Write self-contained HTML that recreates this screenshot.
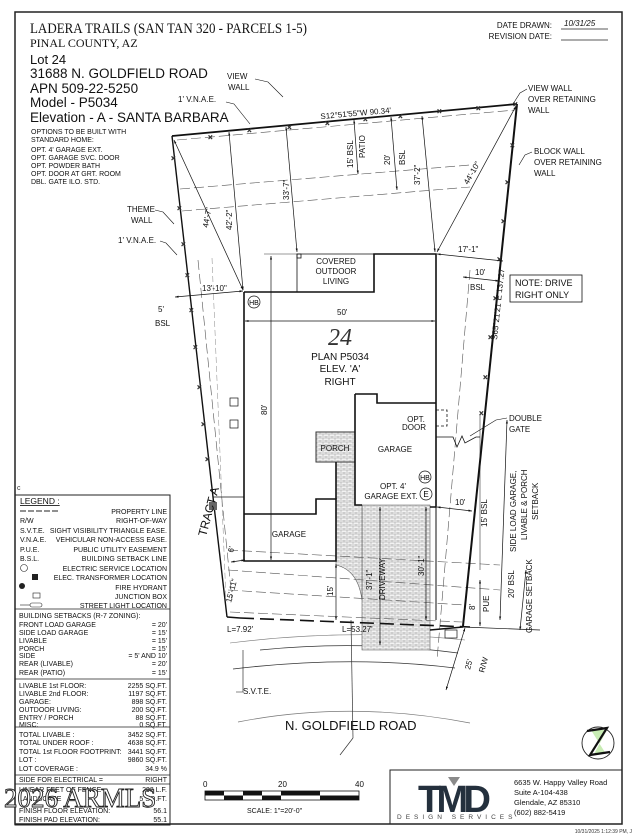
<!DOCTYPE html>
<html><head><meta charset="utf-8"><style>
body{margin:0;background:#fff;}
svg{display:block;font-family:"Liberation Sans",sans-serif;}
.t{font-size:8px;fill:#111;}
.s{font-size:7px;fill:#111;}
</style></head><body>
<svg width="635" height="836" viewBox="0 0 635 836" xmlns="http://www.w3.org/2000/svg">
<defs>
<pattern id="brick" width="6" height="4" patternUnits="userSpaceOnUse">
<rect width="6" height="4" fill="#f2f2f2"/>
<path d="M0 0H6M0 2H6M2 0V2M5 2V4" stroke="#9a9a9a" stroke-width="0.5"/>
</pattern>
<marker id="a" viewBox="0 0 10 10" refX="10" refY="5" markerWidth="5" markerHeight="5" orient="auto-start-reverse"><path d="M0 2L10 5L0 8z" fill="#111"/></marker>
</defs>
<rect x="15" y="12" width="607" height="812" fill="none" stroke="#222" stroke-width="1.5"/>

<text x="30" y="33" style="font-family:'Liberation Serif',serif;font-size:14.5px" fill="#111" textLength="277" lengthAdjust="spacingAndGlyphs">LADERA TRAILS (SAN TAN 320 - PARCELS 1-5)</text>
<text x="30" y="47" style="font-family:'Liberation Serif',serif;font-size:12px" fill="#111">PINAL COUNTY, AZ</text>
<text x="30" y="64" font-size="13" fill="#111">Lot  24</text>
<text x="30" y="78" font-size="13.5" fill="#111">31688 N. GOLDFIELD ROAD</text>
<text x="30" y="93" font-size="13.5" fill="#111">APN 509-22-5250</text>
<text x="30" y="107" font-size="13.5" fill="#111">Model - P5034</text>
<text x="30" y="122" font-size="13.5" fill="#111">Elevation - A - SANTA BARBARA</text>
<text x="31" y="134" class="s" font-size="6.5">OPTIONS TO BE BUILT WITH</text>
<text x="31" y="142" class="s" font-size="6.5">STANDARD HOME:</text>
<text x="31" y="152" class="s">OPT.  4'  GARAGE  EXT.</text>
<text x="31" y="160" class="s">OPT.  GARAGE  SVC.  DOOR</text>
<text x="31" y="168" class="s">OPT.  POWDER  BATH</text>
<text x="31" y="176" class="s">OPT.  DOOR  AT  GRT.  ROOM</text>
<text x="31" y="184" class="s">DBL.  GATE  ILO.  STD.</text>

<text x="552" y="28" class="t" text-anchor="end">DATE DRAWN:</text>
<text x="564" y="26" class="t" font-style="italic">10/31/25</text>
<line x1="561" y1="29" x2="608" y2="29" stroke="#222" stroke-width="0.7"/>
<text x="552" y="39" class="t" text-anchor="end">REVISION DATE:</text>
<line x1="561" y1="40" x2="608" y2="40" stroke="#222" stroke-width="0.7"/>

<path d="M238 722 Q350 700 470 723" fill="none" stroke="#777" stroke-width="0.7"/>
<path d="M260 650 Q360 640 458 653" fill="none" stroke="#333" stroke-width="0.8"/>
<path d="M233 669 Q350 655 455 668" fill="none" stroke="#333" stroke-width="0.8"/>
<path d="M230 643 Q350 628 465 640" fill="none" stroke="#777" stroke-width="0.6"/>
<text x="285" y="730" font-size="13" fill="#111">N. GOLDFIELD ROAD</text>
<line x1="351" y1="620" x2="353" y2="738" stroke="#333" stroke-width="0.7"/>
<line x1="353" y1="738" x2="340" y2="755" stroke="#333" stroke-width="0.7"/>

<path d="M362 505 L430 505 L430 650 L362 650 Z" fill="url(#brick)" stroke="#555" stroke-width="0.6"/>
<path d="M336 462 L355 462 L355 505 L362 505 L362 600 Q358 570 336 565 Z" fill="url(#brick)" stroke="#555" stroke-width="0.6"/>
<rect x="316" y="432" width="39" height="30" fill="url(#brick)" stroke="#333"/>

<g stroke="#555" stroke-width="0.6" stroke-dasharray="10 4" fill="none">
<line x1="180" y1="189" x2="470" y2="165"/>
<line x1="182" y1="211" x2="470" y2="187"/>
<line x1="177" y1="140" x2="515" y2="110"/>
<line x1="470" y1="270" x2="437" y2="660"/>
<line x1="198" y1="260" x2="232" y2="600"/>
<line x1="228" y1="550" x2="500" y2="565"/>
<line x1="228" y1="570" x2="500" y2="590"/>
<line x1="228" y1="590" x2="465" y2="605"/>
<line x1="230" y1="612" x2="462" y2="622"/>
</g>
<line x1="212" y1="258" x2="226" y2="600" stroke="#888" stroke-width="0.5" stroke-dasharray="6 3"/>

<g stroke="#111" fill="none">
<path d="M172 136 L517 104" stroke-width="1.8"/>
<path d="M517 104 L463 626" stroke-width="2"/>
<path d="M172 136 L213 497 L227 617" stroke-width="1.4"/>
<path d="M227 617 L240 618" stroke-width="1.4"/>
<path d="M240 618 L470 627" stroke-width="1.6" stroke-dasharray="14 6"/>
<path d="M430 630 L463 627" stroke-width="1.4"/>
<line x1="213" y1="497" x2="244" y2="497" stroke-width="0.8"/>
<line x1="463" y1="627" x2="540" y2="630" stroke-width="0.7"/>
</g>
<rect x="209" y="502" width="8" height="8" fill="#666"/>
<g stroke="#333" stroke-width="0.6" font-size="8" fill="#333">
<text x="208" y="140">×</text><text x="247" y="133">×</text><text x="287" y="130">×</text><text x="325" y="126">×</text><text x="363" y="122">×</text><text x="398" y="119">×</text><text x="437" y="114">×</text><text x="476" y="111">×</text><text x="513" y="107">×</text>
<text x="510" y="148">×</text><text x="505" y="185">×</text><text x="501" y="224">×</text><text x="497" y="262">×</text><text x="493" y="301">×</text><text x="488" y="340">×</text><text x="483" y="380">×</text><text x="479" y="416">×</text>
<text x="171" y="161">×</text><text x="177" y="211">×</text><text x="181" y="247">×</text><text x="185" y="278">×</text><text x="189" y="313">×</text><text x="193" y="350">×</text><text x="197" y="390">×</text><text x="201" y="427">×</text><text x="205" y="462">×</text>
</g>

<g stroke="#111" stroke-width="1.6" fill="none">
<path d="M244 292 L374 292 L374 254 L436 254 L436 403 M436 403 L436 507 L430 507"/>
<path d="M244 292 L244 561 L336 561 L336 499 L316 499 L316 514 L244 514"/>
<path d="M355 394 L377 394 L377 403 L436 403"/>
<path d="M355 394 L355 505 L362 505"/>
<path d="M336 462 L336 499"/>
</g>
<g stroke="#111" stroke-width="0.8" fill="none">
<path d="M297 292 L297 254 L374 254"/>
<line x1="264" y1="254" x2="297" y2="254" stroke="#777"/>
<rect x="297" y="254" width="4" height="4"/>
<path d="M436 507 L436 620" stroke-width="1"/>
<path d="M436 410 L447 410 L447 426 L436 426" stroke-dasharray="3 2"/>
<path d="M436 437 L453 437 L457 447 L462 436 L465 443 L476 437 L480 437"/>
</g>
<text x="336" y="264" class="t" text-anchor="middle">COVERED</text>
<text x="336" y="274" class="t" text-anchor="middle">OUTDOOR</text>
<text x="336" y="284" class="t" text-anchor="middle">LIVING</text>
<text x="340" y="345" font-size="24" font-style="italic" text-anchor="middle" style="font-family:'Liberation Serif',serif" fill="#333">24</text>
<text x="340" y="360" font-size="10" text-anchor="middle" fill="#111">PLAN P5034</text>
<text x="340" y="372" font-size="10" text-anchor="middle" fill="#111">ELEV. 'A'</text>
<text x="340" y="385" font-size="10" text-anchor="middle" fill="#111">RIGHT</text>
<text x="335" y="451" class="t" text-anchor="middle">PORCH</text>
<text x="395" y="452" class="t" text-anchor="middle">GARAGE</text>
<text x="416" y="422" class="t" text-anchor="middle">OPT.</text>
<text x="414" y="430" class="t" text-anchor="middle">DOOR</text>
<text x="393" y="489" class="t" text-anchor="middle">OPT. 4'</text>
<text x="391" y="499" class="t" text-anchor="middle">GARAGE EXT.</text>
<text x="289" y="537" class="t" text-anchor="middle">GARAGE</text>
<g fill="none" stroke="#111" stroke-width="0.7">
<circle cx="254" cy="302" r="6"/><circle cx="425" cy="477" r="6"/><circle cx="426" cy="494" r="6"/>
<rect x="230" y="398" width="8" height="8"/><rect x="230" y="420" width="8" height="8"/>
<rect x="445" y="630" width="12" height="8"/>
</g>
<text x="254" y="305" font-size="7" text-anchor="middle">HB</text>
<text x="425" y="480" font-size="7" text-anchor="middle">HB</text>
<text x="426" y="497" font-size="8" text-anchor="middle">E</text>

<g stroke="#111" stroke-width="0.7" marker-end="url(#a)" marker-start="url(#a)">
<line x1="229" y1="132" x2="243" y2="290"/>
<line x1="286" y1="127" x2="297" y2="252"/>
<line x1="422" y1="116" x2="435" y2="252"/>
<line x1="516" y1="106" x2="437" y2="252"/>
<line x1="174" y1="140" x2="243" y2="290"/>
<line x1="391" y1="117" x2="397" y2="190"/>
<line x1="354" y1="120" x2="358" y2="174"/>
<line x1="437" y1="254" x2="503" y2="261"/>
<line x1="463" y1="277" x2="499" y2="281"/>
<line x1="175" y1="297" x2="243" y2="291"/>
<line x1="245" y1="321" x2="435" y2="321"/>
<line x1="271" y1="256" x2="271" y2="560"/>
<line x1="437" y1="507" x2="472" y2="511"/>
<line x1="380" y1="507" x2="380" y2="645"/>
<line x1="426" y1="507" x2="426" y2="620"/>
<line x1="336" y1="564" x2="336" y2="620"/>
<line x1="245" y1="560" x2="231" y2="562"/>
<line x1="507" y1="420" x2="500" y2="620"/>
<line x1="526" y1="570" x2="520" y2="630"/>
<line x1="480" y1="580" x2="480" y2="626"/>
<line x1="465" y1="628" x2="446" y2="690"/>
</g>
<line x1="480" y1="415" x2="480" y2="570" stroke="#111" stroke-width="0.5"/>
<g class="t">
<text x="356" y="116" transform="rotate(-5 356 116)" text-anchor="middle">S12°51'55"W 90.34'</text>
<text transform="translate(232 230) rotate(-90)">42'-2"</text>
<text transform="translate(289 200) rotate(-90)">33'-7"</text>
<text transform="translate(420 185) rotate(-90)">37'-2"</text>
<text transform="translate(468 185) rotate(-60)">44'-10"</text>
<text transform="translate(208 228) rotate(-80)">44'-7"</text>
<text transform="translate(353 168) rotate(-90)">15' BSL</text>
<text transform="translate(365 158) rotate(-90)">PATIO</text>
<text transform="translate(390 165) rotate(-90)">20'</text>
<text transform="translate(405 165) rotate(-90)">BSL</text>
<text x="458" y="252">17'-1"</text>
<text x="475" y="275">10'</text>
<text x="470" y="290">BSL</text>
<text x="202" y="291">13'-10"</text>
<text x="158" y="312">5'</text>
<text x="155" y="326">BSL</text>
<text x="337" y="315">50'</text>
<text transform="translate(267 415) rotate(-90)">80'</text>
<text transform="translate(372 590) rotate(-90)">37'-1"</text>
<text transform="translate(385 600) rotate(-90)">DRIVEWAY</text>
<text transform="translate(424 576) rotate(-90)">30'-1"</text>
<text transform="translate(333 596) rotate(-90)">15'</text>
<text x="455" y="505">10'</text>
<text transform="translate(233 553) rotate(-75)">6'</text>
<text transform="translate(231 603) rotate(-75)">15'-11"</text>
<text x="227" y="632">L=7.92'</text>
<text x="342" y="632">L=53.27'</text>
<text x="243" y="694">S.V.T.E.</text>
<text transform="translate(497 340) rotate(-84)">S65°21'21"E 137.27'</text>
<text transform="translate(487 527) rotate(-90)">15' BSL</text>
<text transform="translate(516 552) rotate(-90)">SIDE LOAD GARAGE,</text>
<text transform="translate(527 540) rotate(-90)">LIVABLE &amp; PORCH</text>
<text transform="translate(538 520) rotate(-90)">SETBACK</text>
<text transform="translate(514 598) rotate(-90)">20' BSL</text>
<text transform="translate(532 633) rotate(-90)">GARAGE SETBACK</text>
<text transform="translate(475 610) rotate(-90)">8'</text>
<text transform="translate(489 612) rotate(-90)">PUE</text>
<text transform="translate(470 670) rotate(-75)">25'</text>
<text transform="translate(484 673) rotate(-75)">R/W</text>
<text x="227" y="79">VIEW</text><text x="228" y="90">WALL</text>
<text x="178" y="102">1' V.N.A.E.</text>
<text x="528" y="91">VIEW WALL</text><text x="528" y="102">OVER RETAINING</text><text x="528" y="113">WALL</text>
<text x="534" y="154">BLOCK WALL</text><text x="534" y="165">OVER RETAINING</text><text x="534" y="176">WALL</text>
<text x="127" y="212">THEME</text><text x="131" y="223">WALL</text>
<text x="118" y="243">1' V.N.A.E.</text>
<text x="509" y="421">DOUBLE</text><text x="509" y="432">GATE</text>
</g>
<g stroke="#111" stroke-width="0.6" fill="none">
<path d="M255 79 L268 82 L283 97"/><path d="M226 102 L234 104 L250 124"/>
<path d="M527 89 L520 93 L513 104"/><path d="M532 152 L525 155 L519 165"/>
<path d="M155 210 L163 212 L174 224"/><path d="M160 241 L166 243 L177 255"/>
<path d="M507 418 L496 420 L470 436"/>
<path d="M236 692 L243 692 L243 650"/>
</g>
<text transform="translate(206 537) rotate(-75)" font-size="12" fill="#111">TRACT A</text>
<rect x="510" y="275" width="72" height="27" fill="none" stroke="#111" stroke-width="0.8"/>
<text x="515" y="286" font-size="9" fill="#111">NOTE: DRIVE</text>
<text x="515" y="298" font-size="9" fill="#111">RIGHT ONLY</text>
<text x="17" y="490" font-size="7" fill="#333">c</text>

<rect x="15" y="495" width="155" height="330" fill="none" stroke="#222" stroke-width="1"/>
<g stroke="#222" stroke-width="0.8">
<line x1="15" y1="609" x2="170" y2="609"/><line x1="15" y1="679" x2="170" y2="679"/>
<line x1="15" y1="727" x2="170" y2="727"/><line x1="15" y1="775" x2="170" y2="775"/>
<line x1="15" y1="784" x2="170" y2="784"/>
</g>
<g class="s">
<text x="20" y="504" font-size="8.5" text-decoration="underline">LEGEND :</text>
<line x1="20" y1="511" x2="60" y2="511" stroke="#222" stroke-dasharray="6 2"/>
<text x="167" y="514" text-anchor="end">PROPERTY LINE</text>
<text x="20" y="523">R/W</text><text x="167" y="523" text-anchor="end">RIGHT-OF-WAY</text>
<text x="20" y="533">S.V.T.E.</text><text x="167" y="533" text-anchor="end">SIGHT VISIBILITY TRIANGLE EASE.</text>
<text x="20" y="542">V.N.A.E.</text><text x="167" y="542" text-anchor="end">VEHICULAR NON-ACCESS EASE.</text>
<text x="20" y="552">P.U.E.</text><text x="167" y="552" text-anchor="end">PUBLIC UTILITY EASEMENT</text>
<text x="20" y="561">B.S.L.</text><text x="167" y="561" text-anchor="end">BUILDING SETBACK LINE</text>
<circle cx="24" cy="568" r="3.5" fill="none" stroke="#222" stroke-width="0.6"/>
<text x="167" y="571" text-anchor="end">ELECTRIC SERVICE LOCATION</text>
<rect x="32" y="574" width="6" height="6" fill="#222"/>
<text x="167" y="580" text-anchor="end">ELEC. TRANSFORMER LOCATION</text>
<circle cx="22" cy="586" r="3" fill="#222"/>
<text x="167" y="590" text-anchor="end">FIRE HYDRANT</text>
<rect x="33" y="593" width="7" height="5" fill="none" stroke="#222" stroke-width="0.6"/>
<text x="167" y="599" text-anchor="end">JUNCTION BOX</text>
<line x1="20" y1="605" x2="30" y2="605" stroke="#222" stroke-width="0.6"/><rect x="30" y="603" width="12" height="4" rx="2" fill="none" stroke="#222" stroke-width="0.6"/>
<text x="167" y="608" text-anchor="end">STREET LIGHT LOCATION</text>
<text x="19" y="618">BUILDING SETBACKS (R-7 ZONING):</text>
<text x="19" y="627">FRONT LOAD GARAGE</text><text x="167" y="627" text-anchor="end">= 20'</text>
<text x="19" y="635">SIDE LOAD GARAGE</text><text x="167" y="635" text-anchor="end">= 15'</text>
<text x="19" y="643">LIVABLE</text><text x="167" y="643" text-anchor="end">= 15'</text>
<text x="19" y="651">PORCH</text><text x="167" y="651" text-anchor="end">= 15'</text>
<text x="19" y="658">SIDE</text><text x="167" y="658" text-anchor="end">= 5' AND 10'</text>
<text x="19" y="666">REAR (LIVABLE)</text><text x="167" y="666" text-anchor="end">= 20'</text>
<text x="19" y="675">REAR (PATIO)</text><text x="167" y="675" text-anchor="end">= 15'</text>
<text x="19" y="688">LIVABLE 1st FLOOR:</text><text x="167" y="688" text-anchor="end">2255  SQ.FT.</text>
<text x="19" y="696">LIVABLE 2nd FLOOR:</text><text x="167" y="696" text-anchor="end">1197  SQ.FT.</text>
<text x="19" y="704">GARAGE:</text><text x="167" y="704" text-anchor="end">898  SQ.FT.</text>
<text x="19" y="712">OUTDOOR LIVING:</text><text x="167" y="712" text-anchor="end">200  SQ.FT.</text>
<text x="19" y="720">ENTRY / PORCH</text><text x="167" y="720" text-anchor="end">88  SQ.FT.</text>
<text x="19" y="727">MISC:</text><text x="167" y="727" text-anchor="end">0  SQ.FT.</text>
<text x="19" y="737">TOTAL LIVABLE :</text><text x="167" y="737" text-anchor="end">3452  SQ.FT.</text>
<text x="19" y="745">TOTAL UNDER ROOF :</text><text x="167" y="745" text-anchor="end">4638  SQ.FT.</text>
<text x="19" y="754">TOTAL 1st FLOOR FOOTPRINT:</text><text x="167" y="754" text-anchor="end">3441  SQ.FT.</text>
<text x="19" y="762">LOT :</text><text x="167" y="762" text-anchor="end">9860  SQ.FT.</text>
<text x="19" y="771">LOT COVERAGE :</text><text x="167" y="771" text-anchor="end">34.9 %</text>
<text x="19" y="782">SIDE FOR ELECTRICAL =</text><text x="167" y="782" text-anchor="end">RIGHT</text>
<text x="19" y="792">LINEAR FEET OF FENCE</text><text x="167" y="792" text-anchor="end">293 L.F.</text>
<text x="19" y="801">LANDSCAPE</text><text x="167" y="801" text-anchor="end">5 SQ.FT.</text>
<text x="19" y="813">FINISH FLOOR ELEVATION:</text><text x="167" y="813" text-anchor="end">56.1</text>
<text x="19" y="822">FINISH PAD ELEVATION:</text><text x="167" y="822" text-anchor="end">55.1</text>
</g>
<text x="4" y="807" font-size="27" fill="#fff" stroke="#222" stroke-width="0.9" style="font-family:'Liberation Serif',serif">2026 ARMLS</text>

<g font-size="8" fill="#111">
<text x="203" y="787">0</text><text x="278" y="787">20</text><text x="355" y="787">40</text>
</g>
<rect x="205" y="791" width="154" height="9" fill="#fff" stroke="#111" stroke-width="0.8"/>
<g fill="#111">
<rect x="205" y="791" width="19" height="4.5"/><rect x="224" y="795.5" width="19" height="4.5"/>
<rect x="243" y="791" width="19" height="4.5"/><rect x="262" y="795.5" width="19" height="4.5"/>
<rect x="281" y="791" width="39" height="4.5"/><rect x="320" y="795.5" width="39" height="4.5"/>
</g>
<text x="247" y="813" font-size="7" fill="#111">SCALE:  1"=20'-0"</text>

<rect x="390" y="770" width="232" height="54" fill="none" stroke="#222" stroke-width="1"/>
<text x="418" y="812" font-size="38" font-weight="bold" fill="#24303d" letter-spacing="-3" textLength="70">TMD</text>
<polygon points="448,777 460,777 454,786" fill="#8a8a8a"/>
<text x="397" y="819" font-size="6.5" fill="#444" letter-spacing="4">DESIGN SERVICES</text>
<g font-size="7.5" fill="#111">
<text x="514" y="785">6635 W. Happy Valley Road</text>
<text x="514" y="795">Suite A-104-438</text>
<text x="514" y="805">Glendale, AZ 85310</text>
<text x="514" y="815">(602) 882-5419</text>
</g>
<circle cx="598" cy="743" r="16" fill="#fff" stroke="#222" stroke-width="0.9"/>
<polygon points="591,730 607,730 594,754 606,754" fill="#c8ecb4"/>
<path d="M587 731 L607 728 L590 755 L610 752" fill="none" stroke="#111" stroke-width="2.2"/>
<text x="632" y="833" font-size="5" text-anchor="end" fill="#333">10/31/2025 1:12:39 PM, J</text>
</svg>
</body></html>
